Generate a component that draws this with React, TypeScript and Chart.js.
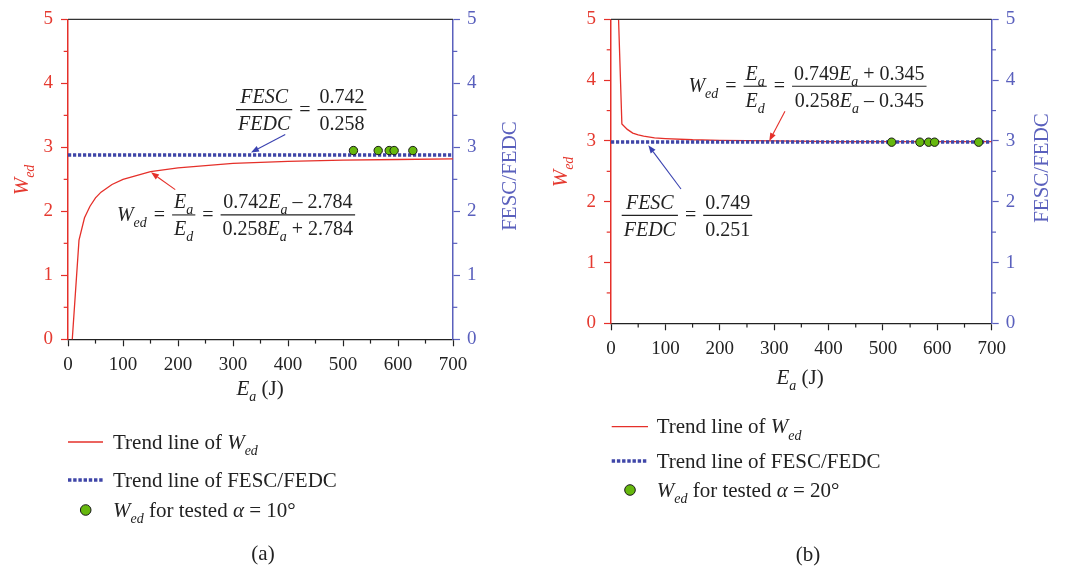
import React, { useEffect, useRef } from 'react';
import { Chart, registerables } from 'chart.js';
Chart.register(...registerables);

const FONT = '"Liberation Serif", "Times New Roman", serif';
const RED = '#e5302a';
const RED_TXT = '#e53a30';
const BLUE_LINE = '#3f46a8';
const BLUE_AXIS = '#5a60bd';
const GREEN = '#66b80e';
const INK = '#222222';

// ---------- data: panel (a), alpha = 10° ----------
const xTickLabels = [0, 100, 200, 300, 400, 500, 600, 700];
const yTickLabels = [0, 1, 2, 3, 4, 5];
const trendEaA = [5, 20, 30, 40, 50, 60, 80, 100, 150, 200, 300, 400, 500, 600, 700];
const trendWedA = [-0.35, 1.55, 1.9, 2.08, 2.21, 2.3, 2.42, 2.5, 2.62, 2.68, 2.75, 2.78, 2.8, 2.81, 2.82];
const ratioEaA = [0, 700];
const ratioA = [2.88, 2.88];
const testedEaA = [519, 564, 584, 593, 627];
const testedWedA = [2.95, 2.95, 2.95, 2.95, 2.95];

// ---------- data: panel (b), alpha = 20° ----------
const trendEaB = [10, 20, 30, 40, 50, 60, 80, 100, 150, 200, 300, 400, 500, 600, 700];
const trendWedB = [6.1, 3.28, 3.19, 3.13, 3.1, 3.08, 3.05, 3.04, 3.02, 3.01, 3.0, 2.99, 2.99, 2.99, 2.99];
const ratioEaB = [0, 700];
const ratioB = [2.984, 2.984];
const testedEaB = [516, 568, 584, 595, 676];
const testedWedB = [2.98, 2.98, 2.98, 2.98, 2.98];

type Seg = { t: string; i?: boolean; s?: boolean };
type Item = { segs: Seg[] } | { num: Seg[]; den: Seg[] };

const fontFor = (g: Seg, size: number) =>
  `${g.i ? 'italic ' : ''}${g.s ? Math.round(size * 0.68) : size}px ${FONT}`;

function segsWidth(ctx: CanvasRenderingContext2D, segs: Seg[], size: number) {
  let w = 0;
  for (const g of segs) {
    ctx.font = fontFor(g, size);
    w += ctx.measureText(g.t).width;
  }
  return w;
}

function drawSegs(ctx: CanvasRenderingContext2D, segs: Seg[], x: number, y: number, size: number) {
  ctx.textBaseline = 'alphabetic';
  ctx.textAlign = 'left';
  for (const g of segs) {
    ctx.font = fontFor(g, size);
    ctx.fillText(g.t, x, g.s ? y + size * 0.3 : y);
    x += ctx.measureText(g.t).width;
  }
  return x;
}

function drawEquation(ctx: CanvasRenderingContext2D, items: Item[], x: number, barY: number, size: number) {
  ctx.fillStyle = INK;
  ctx.strokeStyle = INK;
  let cx = x;
  items.forEach((it) => {
    if ('segs' in it) {
      const w = segsWidth(ctx, it.segs, size);
      drawSegs(ctx, it.segs, cx, barY + 6, size);
      cx += w;
    } else {
      const wn = segsWidth(ctx, it.num, size);
      const wd = segsWidth(ctx, it.den, size);
      const W = Math.max(wn, wd) + 4;
      ctx.lineWidth = 1.1;
      ctx.beginPath();
      ctx.moveTo(cx, barY);
      ctx.lineTo(cx + W, barY);
      ctx.stroke();
      drawSegs(ctx, it.num, cx + (W - wn) / 2, barY - 6.5, size);
      drawSegs(ctx, it.den, cx + (W - wd) / 2, barY + 20.5, size);
      cx += W;
    }
    cx += 7;
  });
}

function drawArrow(ctx: CanvasRenderingContext2D, x1: number, y1: number, x2: number, y2: number, color: string) {
  ctx.strokeStyle = color;
  ctx.fillStyle = color;
  ctx.lineWidth = 1.1;
  const a = Math.atan2(y2 - y1, x2 - x1);
  const L = 8, H = 3;
  const bx = x2 - L * Math.cos(a), by = y2 - L * Math.sin(a);
  ctx.beginPath();
  ctx.moveTo(x1, y1);
  ctx.lineTo(bx, by);
  ctx.stroke();
  ctx.beginPath();
  ctx.moveTo(x2, y2);
  ctx.lineTo(bx + H * Math.sin(a), by - H * Math.cos(a));
  ctx.lineTo(bx - H * Math.sin(a), by + H * Math.cos(a));
  ctx.closePath();
  ctx.fill();
}

function drawRotated(ctx: CanvasRenderingContext2D, segs: Seg[], bx: number, cy: number, size: number, color: string) {
  ctx.save();
  ctx.translate(bx, cy);
  ctx.rotate(-Math.PI / 2);
  ctx.fillStyle = color;
  const w = segsWidth(ctx, segs, size);
  drawSegs(ctx, segs, -w / 2, 0, size);
  ctx.restore();
}

const Wed: Seg[] = [{ t: 'W', i: true }, { t: 'ed', i: true, s: true }];
const Ea: Seg[] = [{ t: 'E', i: true }, { t: 'a', i: true, s: true }];
const Ed: Seg[] = [{ t: 'E', i: true }, { t: 'd', i: true, s: true }];

type PanelCfg = {
  left: number;
  axisLeftW: number;
  axisRightW: number;
  bottomPad: number;
  trendEa: number[];
  trendWed: number[];
  ratioEa: number[];
  ratio: number[];
  testedEa: number[];
  testedWed: number[];
  wEq: { ea: number; w: number; num: Seg[]; den: Seg[] };
  rEq: { ea: number; w: number; num: string; den: string };
  redArrow: number[];
  blueArrow: number[];
  leftTitle: number[];
  rightTitle: number[];
  bottomTitle: number[];
  legend: { x1: number; x2: number; tx: number; cx: number; rows: number[]; alpha: string };
  caption: { t: string; x: number; y: number };
};

const panelA: PanelCfg = {
  left: 0,
  axisLeftW: 68,
  axisRightW: 81,
  bottomPad: 571 - 339.3 - 40,
  trendEa: trendEaA,
  trendWed: trendWedA,
  ratioEa: ratioEaA,
  ratio: ratioA,
  testedEa: testedEaA,
  testedWed: testedWedA,
  wEq: {
    ea: 89, w: 1.944,
    num: [{ t: '0.742' }, ...Ea, { t: ' – 2.784' }],
    den: [{ t: '0.258' }, ...Ea, { t: ' + 2.784' }],
  },
  rEq: { ea: 305.5, w: 3.59, num: '0.742', den: '0.258' },
  redArrow: [195, 2.34, 150.9, 2.61],
  blueArrow: [395, 3.2, 332.7, 2.92],
  leftTitle: [28, 180],
  rightTitle: [516, 176],
  bottomTitle: [260, 395],
  legend: { x1: 68, x2: 103, tx: 113, cx: 85.7, rows: [442, 480, 510], alpha: ' = 10°' },
  caption: { t: '(a)', x: 263, y: 560 },
};

const panelB: PanelCfg = {
  left: 534,
  axisLeftW: 77,
  axisRightW: 76.3,
  bottomPad: 571 - 323.3 - 40,
  trendEa: trendEaB,
  trendWed: trendWedB,
  ratioEa: ratioEaB,
  ratio: ratioB,
  testedEa: testedEaB,
  testedWed: testedWedB,
  wEq: {
    ea: 142.3, w: 3.9,
    num: [{ t: '0.749' }, ...Ea, { t: ' + 0.345' }],
    den: [{ t: '0.258' }, ...Ea, { t: ' – 0.345' }],
  },
  rEq: { ea: 19.7, w: 1.776, num: '0.749', den: '0.251' },
  redArrow: [319.9, 3.49, 291, 3.0],
  blueArrow: [128.7, 2.21, 68.6, 2.93],
  leftTitle: [33, 172],
  rightTitle: [514, 168],
  bottomTitle: [266, 384],
  legend: { x1: 77.7, x2: 114, tx: 122.7, cx: 96, rows: [426.7, 461, 490], alpha: ' = 20°' },
  caption: { t: '(b)', x: 274, y: 561 },
};

function pts(xs: number[], ys: number[]) {
  return xs.map((x, i) => ({ x, y: ys[i] }));
}

function Panel({ cfg }: { cfg: PanelCfg }) {
  const ref = useRef<HTMLCanvasElement>(null);
  useEffect(() => {
    const canvas = ref.current!;
    const overlay = {
      id: 'overlay',
      afterDraw(chart: any) {
        const ctx: CanvasRenderingContext2D = chart.ctx;
        const xs = chart.scales.x, ys = chart.scales.y;
        const ca = chart.chartArea;
        const X = (v: number) => xs.getPixelForValue(v);
        const Y = (v: number) => ys.getPixelForValue(v);
        ctx.save();
        // top frame
        ctx.strokeStyle = '#333';
        ctx.lineWidth = 1.4;
        ctx.beginPath();
        ctx.moveTo(ca.left, ca.top);
        ctx.lineTo(ca.right, ca.top);
        ctx.stroke();
        // minor ticks
        ctx.lineWidth = 1.2;
        for (let v = 50; v < 700; v += 100) {
          ctx.strokeStyle = INK;
          ctx.beginPath();
          ctx.moveTo(X(v), ca.bottom);
          ctx.lineTo(X(v), ca.bottom + 4.3);
          ctx.stroke();
        }
        for (let v = 0.5; v < 5; v += 1) {
          ctx.strokeStyle = RED;
          ctx.beginPath();
          ctx.moveTo(ca.left, Y(v));
          ctx.lineTo(ca.left - 4.3, Y(v));
          ctx.stroke();
          ctx.strokeStyle = BLUE_AXIS;
          ctx.beginPath();
          ctx.moveTo(ca.right, Y(v));
          ctx.lineTo(ca.right + 4.3, Y(v));
          ctx.stroke();
        }
        // equations
        const S = 20;
        drawEquation(ctx, [
          { segs: Wed }, { segs: [{ t: '=' }] }, { num: Ea, den: Ed }, { segs: [{ t: '=' }] },
          { num: cfg.wEq.num, den: cfg.wEq.den },
        ], X(cfg.wEq.ea), Y(cfg.wEq.w), S);
        drawEquation(ctx, [
          { num: [{ t: 'FESC', i: true }], den: [{ t: 'FEDC', i: true }] }, { segs: [{ t: '=' }] },
          { num: [{ t: cfg.rEq.num }], den: [{ t: cfg.rEq.den }] },
        ], X(cfg.rEq.ea), Y(cfg.rEq.w), S);
        const ra = cfg.redArrow, ba = cfg.blueArrow;
        drawArrow(ctx, X(ra[0]), Y(ra[1]), X(ra[2]), Y(ra[3]), RED);
        drawArrow(ctx, X(ba[0]), Y(ba[1]), X(ba[2]), Y(ba[3]), '#3a42b0');
        // axis titles
        drawRotated(ctx, Wed, cfg.leftTitle[0], cfg.leftTitle[1], 21, RED_TXT);
        drawRotated(ctx, [{ t: 'FESC/FEDC' }], cfg.rightTitle[0], cfg.rightTitle[1], 21, BLUE_AXIS);
        ctx.fillStyle = INK;
        const bt: Seg[] = [...Ea, { t: ' (J)' }];
        const bw = segsWidth(ctx, bt, 21);
        drawSegs(ctx, bt, cfg.bottomTitle[0] - bw / 2, cfg.bottomTitle[1], 21);
        // legend
        const LS = 21;
        const lg = cfg.legend;
        ctx.strokeStyle = RED;
        ctx.lineWidth = 1.3;
        ctx.beginPath();
        ctx.moveTo(lg.x1, lg.rows[0]);
        ctx.lineTo(lg.x2, lg.rows[0]);
        ctx.stroke();
        ctx.strokeStyle = BLUE_LINE;
        ctx.lineWidth = 3.5;
        ctx.setLineDash([3.4, 1.8]);
        ctx.beginPath();
        ctx.moveTo(lg.x1, lg.rows[1]);
        ctx.lineTo(lg.x2, lg.rows[1]);
        ctx.stroke();
        ctx.setLineDash([]);
        ctx.fillStyle = GREEN;
        ctx.strokeStyle = '#1a1a1a';
        ctx.lineWidth = 1;
        ctx.beginPath();
        ctx.arc(lg.cx, lg.rows[2], 5.3, 0, Math.PI * 2);
        ctx.fill();
        ctx.stroke();
        ctx.fillStyle = INK;
        drawSegs(ctx, [{ t: 'Trend line of ' }, ...Wed], lg.tx, lg.rows[0] + 6.5, LS);
        drawSegs(ctx, [{ t: 'Trend line of FESC/FEDC' }], lg.tx, lg.rows[1] + 6.5, LS);
        drawSegs(ctx, [...Wed, { t: ' for tested ' }, { t: 'α', i: true }, { t: lg.alpha }], lg.tx, lg.rows[2] + 6.5, LS);
        // caption
        ctx.font = `${LS}px ${FONT}`;
        ctx.textAlign = 'center';
        ctx.fillText(cfg.caption.t, cfg.caption.x, cfg.caption.y);
        ctx.restore();
      },
    };

    const tickFont = { family: FONT, size: 19 };
    const chart = new Chart(canvas, {
      type: 'scatter',
      data: {
        datasets: [
          {
            label: 'Wed tested',
            data: pts(cfg.testedEa, cfg.testedWed),
            pointRadius: 4.2,
            pointBackgroundColor: GREEN,
            pointBorderColor: '#1a1a1a',
            pointBorderWidth: 1,
            order: 0,
          },
          {
            label: 'FESC/FEDC',
            data: pts(cfg.ratioEa, cfg.ratio),
            showLine: true,
            pointRadius: 0,
            borderColor: BLUE_LINE,
            borderWidth: 3.5,
            borderDash: [3.2, 1.8],
            yAxisID: 'y2',
            order: 1,
          },
          {
            label: 'Wed trend',
            data: pts(cfg.trendEa, cfg.trendWed),
            showLine: true,
            pointRadius: 0,
            borderColor: RED,
            borderWidth: 1.3,
            tension: 0,
            order: 2,
          },
        ],
      },
      options: {
        responsive: false,
        animation: false,
        devicePixelRatio: 1,
        layout: { padding: { top: 13.7, bottom: cfg.bottomPad, left: 0, right: 0 } },
        plugins: { legend: { display: false }, tooltip: { enabled: false } },
        scales: {
          x: {
            type: 'linear',
            min: xTickLabels[0],
            max: xTickLabels[xTickLabels.length - 1],
            ticks: { stepSize: 100, color: INK, font: tickFont, padding: 7, maxRotation: 0 },
            grid: { drawOnChartArea: false, drawTicks: true, tickLength: 7, tickColor: INK, tickWidth: 1.2 },
            border: { color: INK, width: 1.3 },
            afterFit: (s: any) => { s.height = 40; },
          },
          y: {
            position: 'left',
            min: yTickLabels[0],
            max: yTickLabels[yTickLabels.length - 1],
            ticks: { stepSize: 1, color: RED_TXT, font: tickFont, padding: 8 },
            grid: { drawOnChartArea: false, drawTicks: true, tickLength: 7, tickColor: RED, tickWidth: 1.2 },
            border: { color: RED, width: 1.5 },
            afterFit: (s: any) => { s.width = cfg.axisLeftW; },
          },
          y2: {
            position: 'right',
            min: yTickLabels[0],
            max: yTickLabels[yTickLabels.length - 1],
            ticks: { stepSize: 1, color: BLUE_AXIS, font: tickFont, padding: 7 },
            grid: { drawOnChartArea: false, drawTicks: true, tickLength: 7, tickColor: BLUE_AXIS, tickWidth: 1.2 },
            border: { color: BLUE_AXIS, width: 1.5 },
            afterFit: (s: any) => { s.width = cfg.axisRightW; },
          },
        },
      } as any,
      plugins: [overlay],
    });
    return () => chart.destroy();
  }, [cfg]);
  return (
    <canvas
      ref={ref}
      width={534}
      height={571}
      style={{ position: 'absolute', left: cfg.left, top: 0, width: 534, height: 571, display: 'block' }}
    />
  );
}

export default function App() {
  return (
    <div style={{ position: 'fixed', left: 0, top: 0, width: 1068, height: 571, background: '#fff', overflow: 'hidden' }}>
      <Panel cfg={panelA} />
      <Panel cfg={panelB} />
    </div>
  );
}
